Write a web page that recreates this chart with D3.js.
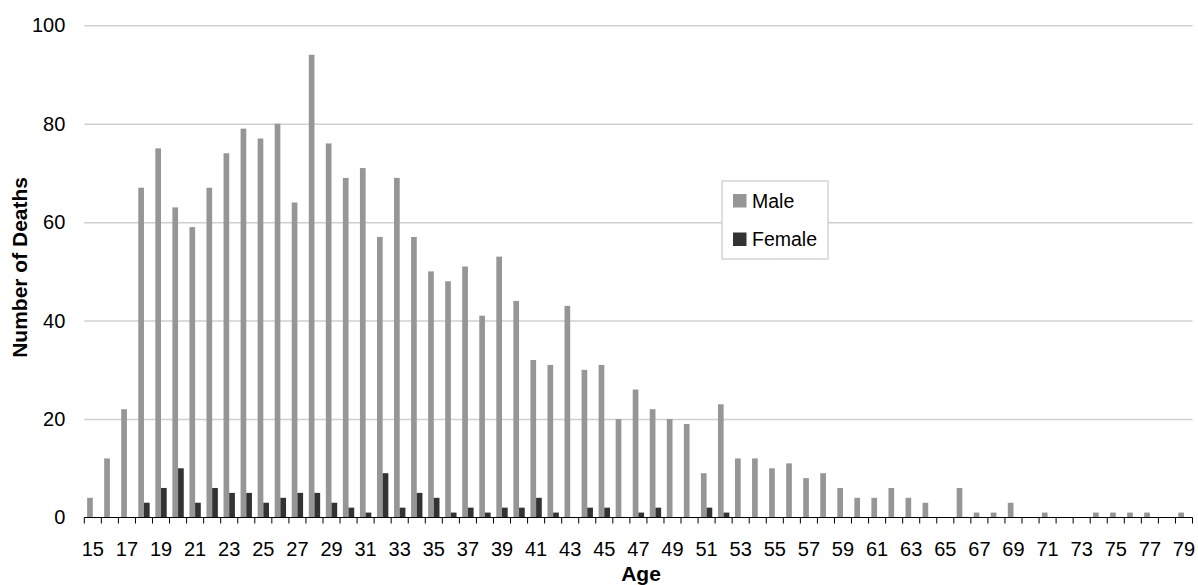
<!DOCTYPE html>
<html>
<head>
<meta charset="utf-8">
<script src="https://cdn.jsdelivr.net/npm/d3@7"></script>
<style>
  html, body { margin: 0; padding: 0; background: #fff; }
  svg { display: block; font-family: "Liberation Sans", Arial, sans-serif; }
</style>
</head>
<body>
<svg id="chart" width="1198" height="585"></svg>
<script>
const ages = d3.range(15, 80);
const maleDeaths = [4,12,22,67,75,63,59,67,74,79,77,80,64,94,76,69,71,57,69,57,50,48,51,41,53,44,32,31,43,30,31,20,26,22,20,19,9,23,12,12,10,11,8,9,6,4,4,6,4,3,0,6,1,1,3,0,1,0,0,1,1,1,1,0,1];
const femaleDeaths = [0,0,0,3,6,10,3,6,5,5,3,4,5,5,3,2,1,9,2,5,4,1,2,1,2,2,4,1,0,2,2,0,1,2,0,0,2,1,0,0,0,0,0,0,0,0,0,0,0,0,0,0,0,0,0,0,0,0,0,0,0,0,0,0,0];
const seriesNames = ["Male", "Female"];
const seriesColors = ["#969696", "#333333"];
const yTicks = [0, 20, 40, 60, 80, 100];
const xLabelAges = ages.filter(a => a % 2 === 1);

const svg = d3.select("#chart");
const plotL = 84.3, plotR = 1192.5, plotT = 25.3, plotB = 517.5;

const x = d3.scaleBand().domain(ages).range([plotL, plotR]).padding(0);
const xs = d3.scaleBand().domain(seriesNames).range([0, x.bandwidth()]).paddingInner(0).paddingOuter(0.5);
const y = d3.scaleLinear().domain([0, 100]).range([plotB, plotT]);

// gridlines
svg.append("g")
  .attr("transform", `translate(${plotL},0)`)
  .call(d3.axisLeft(y).tickValues(yTicks.filter(d => d > 0)).tickSize(-(plotR - plotL)).tickFormat(""))
  .call(g => g.select(".domain").remove())
  .call(g => g.selectAll("line").attr("stroke", "#cfcfcf").attr("stroke-width", 1.5));

// y tick labels
svg.append("g")
  .attr("transform", `translate(${plotL},0)`)
  .call(d3.axisLeft(y).tickValues(yTicks).tickSize(0).tickPadding(19))
  .call(g => g.select(".domain").remove())
  .call(g => g.selectAll("text").attr("font-size", 20).attr("fill", "#000").attr("font-family", "Liberation Sans, Arial, sans-serif"));

// bars
const data = ages.map((a, i) => ({ age: a, Male: maleDeaths[i], Female: femaleDeaths[i] }));
seriesNames.forEach((s, si) => {
  svg.append("g").selectAll("rect")
    .data(data.filter(d => d[s] > 0))
    .join("rect")
    .attr("x", d => x(d.age) + xs(s))
    .attr("y", d => y(d[s]))
    .attr("width", xs.bandwidth())
    .attr("height", d => y(0) - y(d[s]))
    .attr("fill", seriesColors[si]);
});

// x axis line + tick marks at category boundaries
const xAxisG = svg.append("g");
xAxisG.append("line")
  .attr("x1", plotL).attr("x2", plotR)
  .attr("y1", plotB).attr("y2", plotB)
  .attr("stroke", "#000").attr("stroke-width", 1);
xAxisG.selectAll("line.tick")
  .data(ages.concat([null]))
  .join("line")
  .attr("class", "tick")
  .attr("x1", d => d === null ? plotR : x(d))
  .attr("x2", d => d === null ? plotR : x(d))
  .attr("y1", plotB).attr("y2", plotB + 6)
  .attr("stroke", "#000").attr("stroke-width", 1);

// x labels
svg.append("g")
  .attr("transform", `translate(0,${plotB})`)
  .call(d3.axisBottom(x).tickValues(xLabelAges).tickSize(0).tickPadding(24))
  .call(g => g.select(".domain").remove())
  .call(g => g.selectAll("text").attr("font-size", 20).attr("fill", "#000").attr("font-family", "Liberation Sans, Arial, sans-serif"));

// axis titles
svg.append("text")
  .attr("x", 641).attr("y", 581)
  .attr("text-anchor", "middle")
  .attr("font-size", 21).attr("font-weight", "bold")
  .text("Age");
svg.append("text")
  .attr("transform", `translate(27,${(plotT + plotB) / 2 - 4}) rotate(-90)`)
  .attr("text-anchor", "middle")
  .attr("font-size", 21).attr("font-weight", "bold")
  .text("Number of Deaths");

// legend
const lg = svg.append("g");
lg.append("rect")
  .attr("x", 722).attr("y", 181).attr("width", 106).attr("height", 78)
  .attr("fill", "#fff").attr("stroke", "#c8c8c8").attr("stroke-width", 1.2);
seriesNames.forEach((s, i) => {
  const cy = 201 + i * 38.5;
  lg.append("rect")
    .attr("x", 733).attr("y", cy - 7).attr("width", 13.5).attr("height", 13.5)
    .attr("fill", seriesColors[i]);
  lg.append("text")
    .attr("x", 752).attr("y", cy + 6.5)
    .attr("font-size", 19.5)
    .text(s);
});
</script>
</body>
</html>
